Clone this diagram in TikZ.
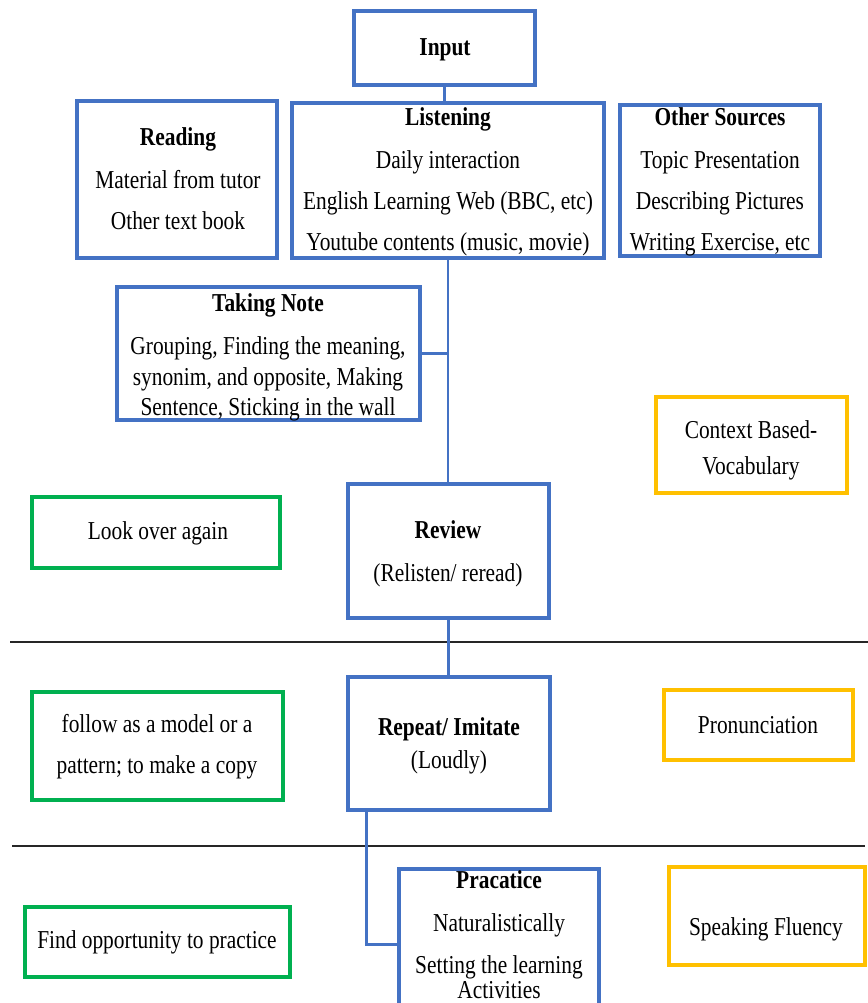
\documentclass[tikz,border=0pt]{standalone}
\usepackage{fontspec}
\setmainfont[FakeStretch=0.83]{Liberation Serif}
\usetikzlibrary{fit,calc}
\definecolor{wblue}{HTML}{4472C4}
\definecolor{wgreen}{HTML}{00B050}
\definecolor{wyellow}{HTML}{FFC000}
\tikzset{
  boxbase/.style={draw, inner sep=0pt, line width=2.6pt},
  bluebox/.style={boxbase, draw=wblue},
  greenbox/.style={boxbase, draw=wgreen},
  yellowbox/.style={boxbase, draw=wyellow},
  txt/.style={anchor=base, inner sep=0pt, font=\fontsize{22pt}{26pt}\selectfont},
  conn/.style={draw=wblue, line width=2pt},
  sepline/.style={draw=black!85, line width=1.5pt}
}
\begin{document}
\begin{tikzpicture}[x=0.03cm,y=-0.03cm]
\clip (0,0) rectangle (868,1003);
\fill[white] (0,0) rectangle (868,1003);
% boxes
\node[bluebox, fit={(354,11) (535,85)}] (input) {};
\node[bluebox, fit={(77,101) (277,258)}] (reading) {};
\node[bluebox, fit={(292,103) (604,258)}] (listening) {};
\node[bluebox, fit={(620,105) (820,256)}] (other) {};
\node[bluebox, fit={(117,287) (420,420)}] (note) {};
\node[yellowbox, fit={(656,397) (847,493)}] (context) {};
\node[greenbox, fit={(32,497) (280,568)}] (look) {};
\node[bluebox, fit={(348,484) (549,618)}] (review) {};
\node[bluebox, fit={(348,677) (550,810)}] (repeat) {};
\node[greenbox, fit={(32,692) (283,800)}] (follow) {};
\node[yellowbox, fit={(664,690) (853,760)}] (pron) {};
\node[bluebox, fit={(399,869) (599,1020)}] (practice) {};
\node[greenbox, fit={(25,907) (290,977)}] (find) {};
\node[yellowbox, fit={(669,867) (865,965)}] (speak) {};
% separator lines
\coordinate (s1a) at (10,642); \coordinate (s1b) at (868,642);
\coordinate (s2a) at (12,846); \coordinate (s2b) at (865,846);
\draw[sepline] (s1a) -- (s1b);
\draw[sepline] (s2a) -- (s2b);
% connectors
\draw[conn] (input.south) -- (input.south |- listening.north);
\draw[conn] (listening.south) -- (listening.south |- review.north);
\draw[conn] (note.east) -- (note.east -| listening.south);
\draw[conn] (review.south) -- (review.south |- repeat.north);
\coordinate (rp) at ($(repeat.south west)+(20,0)$);
\draw[conn] (rp) |- (practice.west);
% texts
\node[txt] (tInput) at (445,55) {\textbf{Input}};
\node[txt] (tR1) at (178,145) {\textbf{Reading}};
\node[txt] (tR2) at (178,188) {Material from tutor};
\node[txt] (tR3) at (178,229) {Other text book};
\node[txt] (tL1) at (448,125) {\textbf{Listening}};
\node[txt] (tL2) at (448,168) {Daily interaction};
\node[txt] (tL3) at (448,209) {English Learning Web (BBC, etc)};
\node[txt] (tL4) at (448,250) {Youtube contents (music, movie)};
\node[txt] (tO1) at (720,125) {\textbf{Other Sources}};
\node[txt] (tO2) at (720,168) {Topic Presentation};
\node[txt] (tO3) at (720,209) {Describing Pictures};
\node[txt] (tO4) at (720,250) {Writing Exercise, etc};
\node[txt] (tN1) at (268,311) {\textbf{Taking Note}};
\node[txt] (tN2) at (268,354) {Grouping, Finding the meaning,};
\node[txt] (tN3) at (268,385) {synonim, and opposite, Making};
\node[txt] (tN4) at (268,415) {Sentence, Sticking in the wall};
\node[txt] (tC1) at (751,438) {Context Based-};
\node[txt] (tC2) at (751,474) {Vocabulary};
\node[txt] (tLook) at (158,539) {Look over again};
\node[txt] (tRv1) at (448,538) {\textbf{Review}};
\node[txt] (tRv2) at (448,581) {(Relisten/ reread)};
\node[txt] (tRp1) at (449,735) {\textbf{Repeat/ Imitate}};
\node[txt] (tRp2) at (449,768) {(Loudly)};
\node[txt] (tF1) at (157,732) {follow as a model or a};
\node[txt] (tF2) at (157,773) {pattern; to make a copy};
\node[txt] (tPron) at (758,733) {Pronunciation};
\node[txt] (tP1) at (499,888) {\textbf{Pracatice}};
\node[txt] (tP2) at (499,931) {Naturalistically};
\node[txt] (tP3) at (499,973) {Setting the learning};
\node[txt] (tP4) at (499,998) {Activities};
\node[txt] (tFind) at (157,948) {Find opportunity to practice};
\node[txt] (tSpeak) at (766,935) {Speaking Fluency};
\end{tikzpicture}
\end{document}
